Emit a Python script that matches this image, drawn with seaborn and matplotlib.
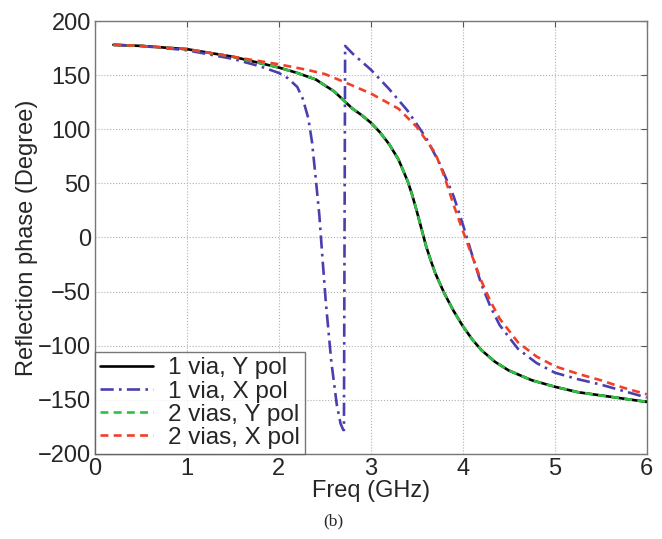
import numpy as np
import pandas as pd
import seaborn as sns
import matplotlib.pyplot as plt

# (GHz, degrees)
freq_y1 = [0.2, 0.5, 1.0, 1.5, 1.8, 2.0, 2.2, 2.4, 2.6, 2.8, 2.9, 3.0, 3.1, 3.2, 3.3, 3.4, 3.45, 3.5,
           3.55, 3.6, 3.65, 3.7, 3.8, 3.9, 4.0, 4.1, 4.2, 4.35, 4.5, 4.75, 5.0, 5.25, 5.5, 5.75, 6.0]
phase_y1 = [178, 177, 174, 167, 161, 157, 152, 146, 135, 119, 113, 106, 97, 86, 72, 52, 39, 24,
            8, -8, -21, -33, -52, -68, -82, -94, -104, -115, -123, -132, -138, -143, -146, -149, -152]

freq_x1 = [0.2, 0.5, 1.0, 1.5, 1.8, 2.0, 2.1, 2.2, 2.26, 2.32, 2.36, 2.40, 2.44, 2.47, 2.51, 2.57, 2.63,
           2.67, 2.70, 2.707, 2.72, 2.8, 3.0, 3.2, 3.4, 3.6, 3.75, 3.9, 4.0, 4.1, 4.2, 4.3, 4.4, 4.6,
           4.8, 5.0, 5.25, 5.5, 5.75, 6.0]
phase_x1 = [178, 177, 173, 165, 158, 152, 147, 139, 128, 110, 88, 55, 20, -15, -60, -115, -155,
            -172, -178, -178, 177, 170, 155, 137, 117, 92, 68, 38, 12, -16, -43, -64, -81, -103,
            -116, -125, -131, -136, -142, -148]

freq_y2 = list(freq_y1)
phase_y2 = list(phase_y1)

freq_x2 = [0.2, 0.5, 1.0, 1.5, 2.0, 2.3, 2.5, 2.7, 3.0, 3.3, 3.5, 3.7, 3.8, 3.9, 4.0, 4.1, 4.2, 4.3,
           4.4, 4.6, 4.8, 5.0, 5.25, 5.5, 5.75, 6.0]
phase_x2 = [178, 177, 174, 167, 160, 155, 151, 144, 133, 119, 102, 78, 56, 30, 6, -17, -40, -59,
            -75, -97, -110, -119, -126, -132, -139, -145]

labels = ["1 via, Y pol", "1 via, X pol", "2 vias, Y pol", "2 vias, X pol"]

frames = []
for lab, fx, py in zip(labels, [freq_y1, freq_x1, freq_y2, freq_x2],
                       [phase_y1, phase_x1, phase_y2, phase_x2]):
    frames.append(pd.DataFrame({"freq": fx, "phase": py, "case": lab, "idx": np.arange(len(fx))}))
df = pd.concat(frames, ignore_index=True)

sns.set_style("white")
plt.rcParams["font.family"] = ["Liberation Sans", "DejaVu Sans"]

fig = plt.figure(figsize=(6.62, 5.39), dpi=100)
ax = fig.add_axes([0.1435, 0.158, 0.977 - 0.1435, 0.961 - 0.158])

palette = {labels[0]: "black", labels[1]: "#4a3fae", labels[2]: "#2ec040", labels[3]: "#f0402a"}
dashes = {labels[0]: "", labels[1]: (5, 2, 1, 2), labels[2]: (3, 2), labels[3]: (3, 2)}

sns.lineplot(data=df, x="freq", y="phase", hue="case", style="case", hue_order=labels,
             style_order=labels, palette=palette, dashes=dashes, sort=False, estimator=None,
             units="case", linewidth=1.9, ax=ax)

ax.set_xlim(0, 6)
ax.set_ylim(-200, 200)
ax.set_xticks(range(0, 7))
ax.set_yticks(range(-200, 201, 50))
ax.set_yticklabels([str(v).replace("-", "\u2212") for v in range(-200, 201, 50)])
ax.grid(True, linestyle=":", color="#b0b0b0", linewidth=0.8)
ax.tick_params(direction="in", top=True, right=True, labelsize=17, length=4, color="#555555", pad=3)
for s in ax.spines.values():
    s.set_color("#777777")
    s.set_linewidth(1.0)
ax.set_xlabel("Freq (GHz)", fontsize=17, labelpad=0)
ax.set_ylabel("Reflection phase (Degree)", fontsize=17, labelpad=0)

leg = ax.legend(loc="lower left", fontsize=17.5, borderaxespad=0, frameon=True, fancybox=False,
                handlelength=2.2, labelspacing=0.05, borderpad=0.2, handletextpad=0.6)
leg.get_frame().set_edgecolor("#555555")
leg.get_frame().set_linewidth(1.0)

fig.text(0.503, 0.018, "(b)", fontsize=12.5, ha="center", va="bottom",
         family=["Liberation Serif", "DejaVu Serif"])

fig.savefig("out.png", dpi=100)
